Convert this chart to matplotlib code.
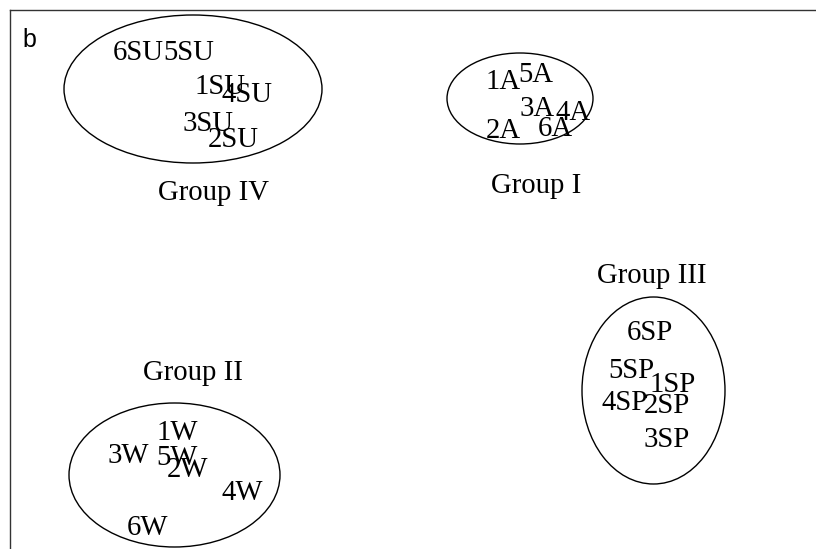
import numpy as np
import matplotlib
matplotlib.use("Agg")
from matplotlib import pyplot as plt
from matplotlib.patches import Ellipse

# sample labels and their positions (x centre, y baseline) on the ordination plane
labels = ["1A", "5A", "3A", "4A", "2A", "6A",
          "1W", "3W", "5W", "2W", "4W", "6W",
          "6SP", "5SP", "1SP", "4SP", "2SP", "3SP",
          "6SU", "5SU", "1SU", "4SU", "3SU", "2SU"]
label_x = [503, 536, 537, 573, 503, 555,
           177, 128, 177, 187, 242, 148,
           650, 631, 673, 625, 667, 667,
           138, 189, 220, 247, 208, 233]
label_y = [89, 82, 116, 120, 138, 136,
           440, 463, 465, 477, 500, 535,
           340, 378, 392, 410, 413, 447,
           60, 60, 94, 102, 131, 147]

# group ellipses: centre, width, height, and the group caption
groups = ["Group I", "Group II", "Group III", "Group IV"]
group_cx = [520, 174.5, 653.5, 193]
group_cy = [98.5, 475, 390.5, 89]
group_w = [146, 211, 143, 258]
group_h = [91, 144, 187, 148]
caption_x = [536, 193, 652, 214]
caption_y = [193, 380, 283, 200]

fig = plt.figure(figsize=(8.16, 5.49), dpi=100)
ax = fig.add_axes([10 / 816, 0, 1 - 10 / 816, 1 - 10 / 549])
ax.set_xlim(10, 816)
ax.set_ylim(549, 10)
ax.set_xticks([])
ax.set_yticks([])
for side in ["right", "bottom"]:
    ax.spines[side].set_visible(False)
for side in ["top", "left"]:
    ax.spines[side].set_color("#333333")
    ax.spines[side].set_linewidth(1.0)

serif = "Liberation Serif"
fs = 20.7

for i in range(len(groups)):
    ax.add_patch(Ellipse((group_cx[i], group_cy[i]), group_w[i], group_h[i],
                         fill=False, edgecolor="black", linewidth=1.0))
    ax.text(caption_x[i], caption_y[i], groups[i], family=serif, fontsize=fs,
            ha="center", va="baseline")

for lab, x, y in zip(labels, label_x, label_y):
    ax.text(x, y, lab, family=serif, fontsize=fs, ha="center", va="baseline")

ax.text(22, 47, "b", family="Liberation Sans", fontsize=18, ha="left", va="baseline")

plt.savefig("out.png", dpi=100)
